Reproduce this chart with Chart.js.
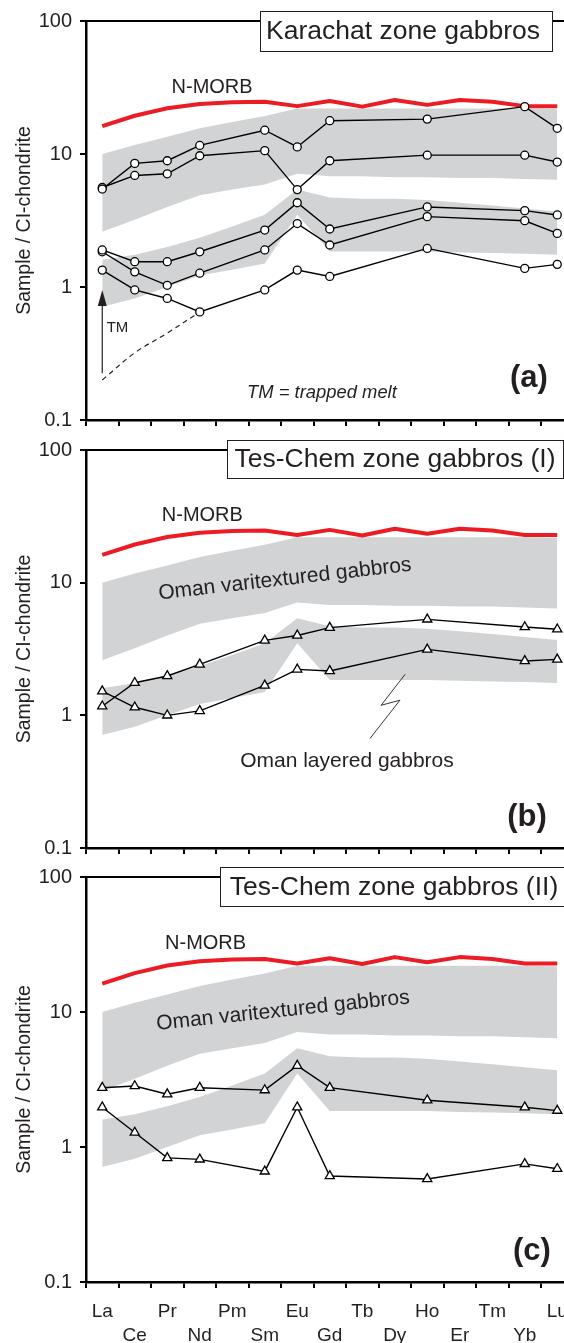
<!DOCTYPE html>
<html>
<head>
<meta charset="utf-8">
<script src="https://cdn.jsdelivr.net/npm/chart.js@4/dist/chart.umd.min.js"></script>
<style>
  html, body { margin: 0; padding: 0; background: #fff; overflow: hidden; }
  #page { position: relative; width: 564px; height: 1343px; overflow: hidden; background: #fff; }
  #page canvas { position: absolute; left: 0; }
</style>
</head>
<body>
<div id="page">
  <canvas id="panelA" width="600" height="450" style="top:0px"></canvas>
  <canvas id="panelB" width="600" height="450" style="top:430px"></canvas>
  <canvas id="panelC" width="600" height="486" style="top:857px"></canvas>
</div>
<script>
// Rare earth elements, in order of atomic number
const elements = ['La', 'Ce', 'Pr', 'Nd', 'Pm', 'Sm', 'Eu', 'Gd', 'Tb', 'Dy', 'Ho', 'Er', 'Tm', 'Yb', 'Lu'];
const yTicks = [0.1, 1, 10, 100];

// Chondrite-normalised N-MORB reference pattern
const nMorb = [16.2, 19.4, 22.1, 23.8, 24.5, 24.7, 22.9, 25.0, 22.7, 25.5, 23.4, 25.5, 24.7, 22.9, 22.9];

// Oman varitextured gabbros field (upper / lower envelope)
const variTop    = [10.0, 11.7, 13.5, 15.6, 17.4, 19.3, 22.0, 22.0, 22.0, 22.0, 22.0, 22.0, 22.0, 22.0, 21.8];
const variBottom = [2.6, 3.2, 4.0, 4.9, 5.4, 5.9, 7.1, 6.8, 6.8, 6.7, 6.7, 6.6, 6.6, 6.5, 6.4];

// Oman layered gabbros field (upper / lower envelope)
const layTop    = [1.6, 1.75, 2.0, 2.35, 2.85, 3.5, 5.4, 4.7, 4.6, 4.6, 4.5, 4.3, 4.1, 3.9, 3.7];
const layBottom = [0.71, 0.82, 1.0, 1.22, 1.35, 1.5, 3.5, 1.85, 1.85, 1.85, 1.85, 1.82, 1.8, 1.78, 1.75];

// (a) Karachat zone gabbros
const karachat1 = [5.45, 8.5, 8.9, 11.6, null, 15.1, 11.3, 17.8, null, null, 18.3, null, null, 22.7, 15.6];
const karachat2 = [5.6, 6.9, 7.1, 9.7, null, 10.6, 5.4, 8.9, null, null, 9.8, null, null, 9.8, 8.7];
const karachat3 = [1.90, 1.55, 1.55, 1.84, null, 2.68, 4.3, 2.73, null, null, 4.0, null, null, 3.75, 3.48];
const karachat4 = [1.84, 1.30, 1.03, 1.27, null, 1.90, 3.0, 2.07, null, null, 3.38, null, null, 3.15, 2.53];
const karachat5 = [1.34, 0.95, 0.82, 0.65, null, 0.95, 1.34, 1.20, null, null, 1.95, null, null, 1.38, 1.48];
// trapped-melt trend
const trappedMelt = [0.2, 0.32, 0.45, 0.65, null, null, null, null, null, null, null, null, null, null, null];

// (b) Tes-Chem zone gabbros (I)
const tesChemI1 = [1.17, 1.76, 1.98, 2.42, null, 3.67, 4.0, 4.58, null, null, 5.29, null, null, 4.63, 4.45];
const tesChemI2 = [1.52, 1.15, 1.00, 1.08, null, 1.68, 2.22, 2.16, null, null, 3.14, null, null, 2.57, 2.64];

// (c) Tes-Chem zone gabbros (II)
const tesChemII1 = [2.75, 2.83, 2.46, 2.75, null, 2.64, 4.0, 2.75, null, null, 2.22, null, null, 1.97, 1.86];
const tesChemII2 = [1.97, 1.28, 0.83, 0.81, null, 0.66, 1.97, 0.61, null, null, 0.58, null, null, 0.75, 0.69];

const FONT = '"Liberation Sans", Arial, Helvetica, sans-serif';
const INK = '#231f20';
const GREY = '#d1d3d4';
const RED = '#ec1c24';

// Annotation layer: frame top, title box, text labels, arrow and leader lines
const panelDecor = {
  id: 'panelDecor',
  afterDraw(chart, args, opts) {
    const ctx = chart.ctx, ca = chart.chartArea;
    const xs = chart.scales.x, ys = chart.scales.y;
    const px = v => xs.getPixelForValue(v);
    const py = v => ys.getPixelForValue(v);
    ctx.save();

    ctx.strokeStyle = '#000';
    ctx.lineWidth = 2;
    ctx.beginPath();
    ctx.moveTo(ca.left - 1.25, ca.top);
    ctx.lineTo(chart.width, ca.top);
    ctx.stroke();

    const b = opts.box;
    ctx.fillStyle = '#fff';
    ctx.fillRect(b.x, b.y, b.w, b.h);
    ctx.strokeStyle = INK;
    ctx.lineWidth = 1;
    ctx.strokeRect(b.x + 0.5, b.y + 0.5, b.w, b.h);
    ctx.fillStyle = INK;
    ctx.font = '26.5px ' + FONT;
    ctx.textAlign = 'center';
    ctx.textBaseline = 'middle';
    ctx.fillText(b.text, b.cx, b.y + b.h / 2 + 1);

    for (const t of opts.labels) {
      ctx.save();
      ctx.translate(px(t.x), py(t.y));
      if (t.rot) ctx.rotate(t.rot * Math.PI / 180);
      ctx.font = t.font;
      ctx.fillStyle = INK;
      ctx.textAlign = 'center';
      ctx.textBaseline = 'middle';
      ctx.fillText(t.text, 0, 0);
      ctx.restore();
    }

    if (opts.arrow) {
      const a = opts.arrow;
      const x = px(a.x), y0 = py(a.from), y1 = py(a.to);
      ctx.strokeStyle = INK;
      ctx.lineWidth = 1.2;
      ctx.beginPath();
      ctx.moveTo(x, y0);
      ctx.lineTo(x, y1 + 12);
      ctx.stroke();
      ctx.fillStyle = INK;
      ctx.beginPath();
      ctx.moveTo(x, y1);
      ctx.lineTo(x - 4.5, y1 + 16);
      ctx.lineTo(x + 4.5, y1 + 16);
      ctx.closePath();
      ctx.fill();
    }

    if (opts.leader) {
      ctx.strokeStyle = INK;
      ctx.lineWidth = 0.9;
      ctx.beginPath();
      opts.leader.forEach((p, i) => {
        if (i === 0) ctx.moveTo(px(p[0]), py(p[1]));
        else ctx.lineTo(px(p[0]), py(p[1]));
      });
      ctx.stroke();
    }
    ctx.restore();
  }
};

function fieldDatasets() {
  const edge = { borderColor: 'rgba(0,0,0,0)', borderWidth: 0, pointRadius: 0, tension: 0, order: 10 };
  return [
    Object.assign({ data: variTop, fill: false }, edge),
    Object.assign({ data: variBottom, fill: '-1', backgroundColor: GREY }, edge),
    Object.assign({ data: layTop, fill: false }, edge),
    Object.assign({ data: layBottom, fill: '-1', backgroundColor: GREY }, edge),
    { data: nMorb, borderColor: RED, borderWidth: 4, pointRadius: 0, fill: false, tension: 0, order: 5,
      borderJoinStyle: 'round' }
  ];
}

function sampleDataset(values, style) {
  return {
    data: values,
    spanGaps: true,
    fill: false,
    tension: 0,
    borderColor: '#000',
    borderWidth: 1.4,
    pointStyle: style,
    pointRadius: style === 'triangle' ? 5.3 : 4,
    pointBackgroundColor: '#fff',
    pointBorderColor: '#000',
    pointBorderWidth: 1.3,
    order: 0
  };
}

function buildPanel(id, cfg) {
  return new Chart(document.getElementById(id), {
    type: 'line',
    data: { labels: elements, datasets: fieldDatasets().concat(cfg.datasets) },
    plugins: [panelDecor],
    options: {
      responsive: false,
      animation: false,
      events: [],
      layout: { padding: { top: cfg.padTop, right: 26.5, left: 0, bottom: 0 } },
      plugins: {
        legend: { display: false },
        tooltip: { enabled: false },
        panelDecor: cfg.decor
      },
      scales: {
        x: {
          type: 'category',
          offset: true,
          afterFit: s => { s.height = cfg.axisH; },
          grid: { offset: true, drawOnChartArea: false, drawTicks: true, tickLength: 6, color: '#000', lineWidth: 2 },
          border: { display: true, color: '#000', width: 2.5 },
          ticks: {
            display: cfg.showLabels,
            autoSkip: false,
            maxRotation: 0,
            minRotation: 0,
            padding: 11,
            color: INK,
            font: { size: 19, family: FONT, lineHeight: 1.3 },
            callback: (v, i) => (i % 2 ? ['', elements[i]] : [elements[i], ''])
          }
        },
        y: {
          type: 'logarithmic',
          min: 0.1,
          max: 100,
          afterBuildTicks: s => { s.ticks = yTicks.map(v => ({ value: v })); },
          afterFit: s => { s.width = 86; },
          grid: { drawOnChartArea: false, drawTicks: true, tickLength: 6, color: '#000', lineWidth: 2 },
          border: { display: true, color: '#000', width: 2.5 },
          ticks: {
            autoSkip: false,
            padding: 8,
            color: INK,
            font: { size: 20, family: FONT },
            callback: v => String(v)
          },
          title: {
            display: true,
            text: 'Sample / CI-chondrite',
            color: INK,
            font: { size: 19.5, family: FONT },
            padding: { top: 13, bottom: 0 }
          }
        }
      }
    }
  });
}

buildPanel('panelA', {
  padTop: 21,
  axisH: 30,
  showLabels: false,
  datasets: [
    { data: trappedMelt, borderColor: INK, borderWidth: 1.2, borderDash: [5, 4], pointRadius: 0,
      fill: false, tension: 0.35, order: 1 },
    sampleDataset(karachat1, 'circle'),
    sampleDataset(karachat2, 'circle'),
    sampleDataset(karachat3, 'circle'),
    sampleDataset(karachat4, 'circle'),
    sampleDataset(karachat5, 'circle')
  ],
  decor: {
    box: { x: 260, y: 11, w: 292, h: 40, cx: 403, text: 'Karachat zone gabbros' },
    labels: [
      { text: 'N-MORB', x: 3.38, y: 31.4, font: '20px ' + FONT },
      { text: 'TM', x: 0.47, y: 0.49, font: '15px ' + FONT },
      { text: 'TM = trapped melt', x: 6.76, y: 0.16, font: 'italic 18.4px ' + FONT },
      { text: '(a)', x: 13.13, y: 0.207, font: 'bold 31px ' + FONT }
    ],
    arrow: { x: 0, from: 0.225, to: 0.95 }
  }
});

buildPanel('panelB', {
  padTop: 20,
  axisH: 32,
  showLabels: false,
  datasets: [
    sampleDataset(tesChemI1, 'triangle'),
    sampleDataset(tesChemI2, 'triangle')
  ],
  decor: {
    box: { x: 227, y: 10, w: 336, h: 38, cx: 395, text: 'Tes-Chem zone gabbros (I)' },
    labels: [
      { text: 'N-MORB', x: 3.08, y: 32.2, font: '20px ' + FONT },
      { text: 'Oman varitextured gabbros', x: 5.62, y: 10.6, rot: -6.5, font: '21px ' + FONT },
      { text: 'Oman layered gabbros', x: 7.53, y: 0.45, font: '21px ' + FONT },
      { text: '(b)', x: 13.07, y: 0.17, font: 'bold 31px ' + FONT }
    ],
    leader: [[9.32, 2.04], [8.58, 1.19], [9.16, 1.30], [8.24, 0.67]]
  }
});

buildPanel('panelC', {
  padTop: 20,
  axisH: 61,
  showLabels: true,
  datasets: [
    sampleDataset(tesChemII1, 'triangle'),
    sampleDataset(tesChemII2, 'triangle')
  ],
  decor: {
    box: { x: 220, y: 10, w: 400, h: 39, cx: 394, text: 'Tes-Chem zone gabbros (II)' },
    labels: [
      { text: 'N-MORB', x: 3.18, y: 32.4, font: '20px ' + FONT },
      { text: 'Oman varitextured gabbros', x: 5.56, y: 10.2, rot: -6, font: '21px ' + FONT },
      { text: '(c)', x: 13.22, y: 0.167, font: 'bold 31px ' + FONT }
    ]
  }
});
</script>
</body>
</html>
